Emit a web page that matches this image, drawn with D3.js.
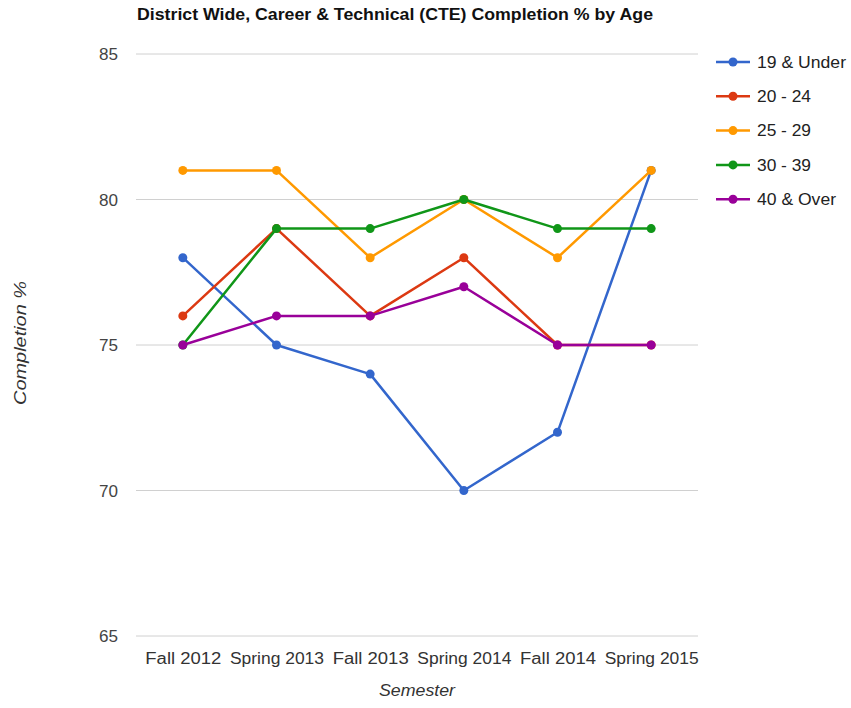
<!DOCTYPE html>
<html>
<head>
<meta charset="utf-8">
<script src="https://cdn.jsdelivr.net/npm/d3@7"></script>
<style>
  html, body { margin: 0; padding: 0; background: #fff; }
  svg { display: block; font-family: "Liberation Sans", Arial, sans-serif; }
</style>
</head>
<body>
<svg id="chart" width="851" height="708"></svg>
<script>
// Semesters along the x axis
const semesters = ["Fall 2012", "Spring 2013", "Fall 2013", "Spring 2014", "Fall 2014", "Spring 2015"];

// Completion % per age group
const under19  = [78, 75, 74, 70, 72, 81];
const age20_24 = [76, 79, 76, 78, 75, 75];
const age25_29 = [81, 81, 78, 80, 78, 81];
const age30_39 = [75, 79, 79, 80, 79, 79];
const over40   = [75, 76, 76, 77, 75, 75];

const seriesNames = ["19 & Under", "20 - 24", "25 - 29", "30 - 39", "40 & Over"];
const yTicks = [65, 70, 75, 80, 85];

const series = [
  { name: seriesNames[0], values: under19,  color: "#3366cc" },
  { name: seriesNames[1], values: age20_24, color: "#dc3912" },
  { name: seriesNames[2], values: age25_29, color: "#ff9900" },
  { name: seriesNames[3], values: age30_39, color: "#109618" },
  { name: seriesNames[4], values: over40,   color: "#990099" }
];

const svg = d3.select("#chart");
const plot = { left: 136, right: 698, top: 54, bottom: 636 };

const x = d3.scalePoint().domain(semesters).range([plot.left, plot.right]).padding(0.5);
const y = d3.scaleLinear().domain([65, 85]).range([plot.bottom, plot.top]);

// Title
svg.append("text")
  .attr("x", 137).attr("y", 20)
  .attr("font-size", 17).attr("font-weight", "bold").attr("fill", "#111")
  .attr("textLength", 516).attr("lengthAdjust", "spacingAndGlyphs")
  .text("District Wide, Career & Technical (CTE) Completion % by Age");

// Horizontal gridlines
svg.append("g").selectAll("line").data(yTicks).join("line")
  .attr("x1", plot.left).attr("x2", plot.right)
  .attr("y1", d => y(d)).attr("y2", d => y(d))
  .attr("stroke", "#d0d0d0").attr("stroke-width", 1);

// Y axis tick labels
const yAxis = svg.append("g")
  .attr("transform", `translate(${plot.left - 18},0)`)
  .call(d3.axisLeft(y).tickValues(yTicks).tickSize(0).tickPadding(0));
yAxis.select(".domain").remove();
yAxis.selectAll("text")
  .attr("font-size", 16).attr("fill", "#444")
  .attr("font-family", "Liberation Sans, Arial, sans-serif")
  .attr("dy", "0.35em")
  .attr("textLength", 19).attr("lengthAdjust", "spacingAndGlyphs");

// X axis tick labels
const xAxis = svg.append("g")
  .attr("transform", `translate(0,${plot.bottom + 17})`)
  .call(d3.axisBottom(x).tickSize(0).tickPadding(0));
xAxis.select(".domain").remove();
xAxis.selectAll("text")
  .attr("font-size", 16).attr("fill", "#333")
  .attr("font-family", "Liberation Sans, Arial, sans-serif")
  .attr("dy", "0.71em")
  .attr("textLength", d => d.startsWith("Fall") ? 76 : 94)
  .attr("lengthAdjust", "spacingAndGlyphs");

// Axis titles
svg.append("text")
  .attr("x", (plot.left + plot.right) / 2).attr("y", 696)
  .attr("text-anchor", "middle").attr("font-size", 16)
  .attr("font-style", "italic").attr("fill", "#333")
  .attr("textLength", 76).attr("lengthAdjust", "spacingAndGlyphs")
  .text("Semester");

svg.append("text")
  .attr("transform", "translate(26,343) rotate(-90)")
  .attr("text-anchor", "middle").attr("font-size", 16)
  .attr("font-style", "italic").attr("fill", "#333")
  .attr("textLength", 124).attr("lengthAdjust", "spacingAndGlyphs")
  .text("Completion %");

// Lines and points
const line = d3.line()
  .x((d, i) => x(semesters[i]))
  .y(d => y(d));

const sg = svg.append("g").selectAll("g").data(series).join("g");
sg.append("path")
  .attr("d", d => line(d.values))
  .attr("fill", "none").attr("stroke", d => d.color)
  .attr("stroke-width", 2.5).attr("stroke-linejoin", "round");
sg.selectAll("circle").data(d => d.values.map((v, i) => ({ v, i, color: d.color }))).join("circle")
  .attr("cx", d => x(semesters[d.i])).attr("cy", d => y(d.v))
  .attr("r", 4.5).attr("fill", d => d.color);

// Legend
const lg = svg.append("g").selectAll("g").data(series).join("g")
  .attr("transform", (d, i) => `translate(716,${62 + i * 34.3})`);
lg.append("line").attr("x1", 0).attr("x2", 34)
  .attr("stroke", d => d.color).attr("stroke-width", 2.5);
lg.append("circle").attr("cx", 17).attr("r", 4.5).attr("fill", d => d.color);
lg.append("text").attr("x", 41).attr("dy", "0.35em")
  .attr("font-size", 16).attr("fill", "#222")
  .text(d => d.name)
  .each(function (d) {
    const w = { "19 & Under": 89, "40 & Over": 79 }[d.name] || 54;
    d3.select(this).attr("textLength", w).attr("lengthAdjust", "spacingAndGlyphs");
  });
</script>
</body>
</html>
